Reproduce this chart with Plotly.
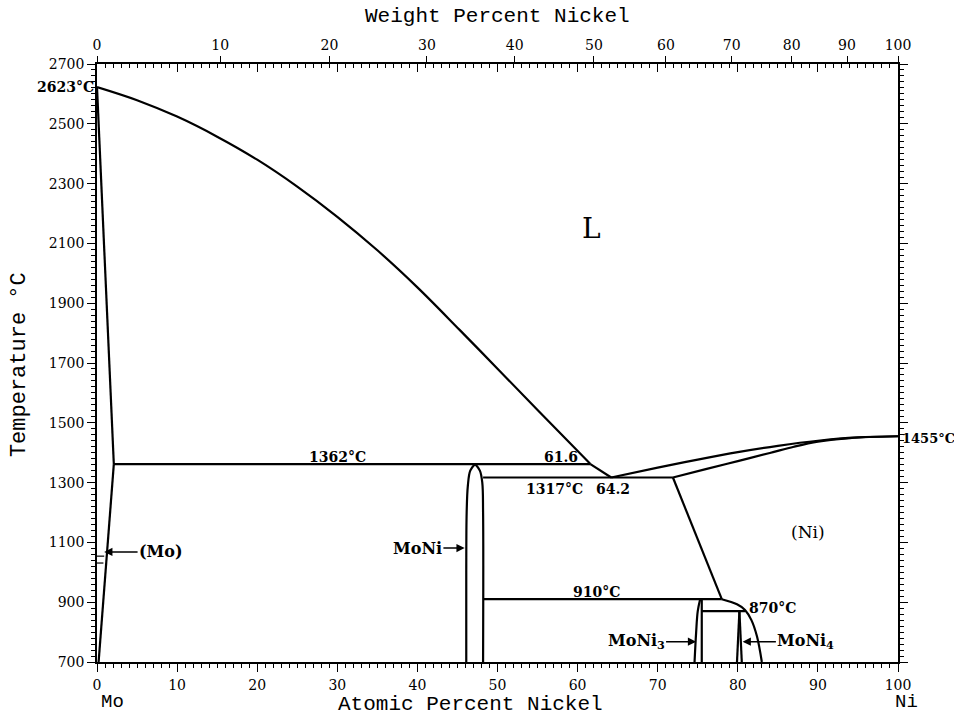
import plotly.graph_objects as go

# ---------------- data (atomic % Ni, temperature °C) ----------------
liq_mo_x = [0, 5, 10, 15, 20, 25, 30, 35, 40, 45.3, 50, 55, 61.6]
liq_mo_T = [2623, 2579, 2524, 2457, 2380, 2290, 2189, 2077, 1953, 1810, 1681, 1543, 1362]

liq_eut_x = [61.6, 64.2]
liq_eut_T = [1362, 1317]

liq_ni_x = [64.2, 70, 75, 80, 85, 90, 95, 100]
liq_ni_T = [1317, 1350, 1377, 1402, 1423, 1440, 1451, 1455]

sol_ni_x = [71.9, 76, 80, 84, 87, 90, 94, 100]
sol_ni_T = [1317, 1345, 1372, 1399, 1420, 1437, 1449, 1455]

mo_sol_x = [0, 2.1]
mo_sol_T = [2623, 1362]
mo_solv_x = [2.1, 0.2]
mo_solv_T = [1362, 700]

ni_solv_x = [71.9, 78.0]
ni_solv_T = [1317, 910]
ni_curve_x = [78.0, 79.9, 80.9, 81.7, 82.4, 83.0]
ni_curve_T = [910, 893, 874, 840, 785, 700]

moni_left_x = [47.2, 46.6, 46.3, 46.15, 46.1, 46.1]
moni_left_T = [1362, 1340, 1290, 1200, 1000, 700]
moni_right_x = [47.2, 47.8, 48.1, 48.2, 48.2]
moni_right_T = [1362, 1340, 1300, 1200, 700]

moni3_left_x = [75.3, 75.0, 74.8, 74.6]
moni3_left_T = [910, 870, 800, 700]
moni3_right_x = [75.5, 75.5]
moni3_right_T = [910, 700]

moni4_left_x = [80.2, 79.9]
moni4_left_T = [870, 700]
moni4_right_x = [80.2, 80.5]
moni4_right_T = [870, 700]

iso_1362_x = [2.1, 61.6]
iso_1362_T = [1362, 1362]
iso_1317_x = [48.2, 71.9]
iso_1317_T = [1317, 1317]
iso_910_x = [48.2, 78.0]
iso_910_T = [910, 910]
iso_870_x = [75.5, 80.9]
iso_870_T = [870, 870]

mo_mark1_x = [0, 0.9]
mo_mark1_T = [1054, 1054]
mo_mark2_x = [0, 0.8]
mo_mark2_T = [1031, 1031]

at_ticks = list(range(0, 101, 10))
wt_ticks = list(range(0, 101, 10))
T_ticks = list(range(700, 2701, 200))

M_NI, M_MO = 58.6934, 95.95


def wt_to_at(w):
    a = w / M_NI
    b = (100 - w) / M_MO
    return 100 * a / (a + b)


wt_pos = [wt_to_at(w) for w in wt_ticks]

# ---------------- figure ----------------
fig = go.Figure()

LW = 2.2


def add(xs, ys, shape="linear"):
    fig.add_trace(go.Scatter(x=xs, y=ys, mode="lines",
                             line=dict(color="black", width=LW, shape=shape),
                             hoverinfo="skip", showlegend=False))


add(liq_mo_x, liq_mo_T, "spline")
add(liq_eut_x, liq_eut_T)
add(liq_ni_x, liq_ni_T, "spline")
add(sol_ni_x, sol_ni_T, "spline")
add(mo_sol_x, mo_sol_T)
add(mo_solv_x, mo_solv_T)
add(ni_solv_x, ni_solv_T)
add(ni_curve_x, ni_curve_T, "spline")
add(moni_left_x, moni_left_T, "spline")
add(moni_right_x, moni_right_T, "spline")
add(moni3_left_x, moni3_left_T, "spline")
add(moni3_right_x, moni3_right_T)
add(moni4_left_x, moni4_left_T)
add(moni4_right_x, moni4_right_T)
add(iso_1362_x, iso_1362_T)
add(iso_1317_x, iso_1317_T)
add(iso_910_x, iso_910_T)
add(iso_870_x, iso_870_T)
fig.add_trace(go.Scatter(x=mo_mark1_x, y=mo_mark1_T, mode="lines",
                         line=dict(color="black", width=1.2), hoverinfo="skip", showlegend=False))
fig.add_trace(go.Scatter(x=mo_mark2_x, y=mo_mark2_T, mode="lines",
                         line=dict(color="black", width=1.2), hoverinfo="skip", showlegend=False))

# invisible traces to activate secondary axes
fig.add_trace(go.Scatter(x=[0], y=[700], xaxis="x2", yaxis="y", mode="markers",
                         marker=dict(opacity=0), hoverinfo="skip", showlegend=False))
fig.add_trace(go.Scatter(x=[0], y=[700], xaxis="x3", yaxis="y2", mode="markers",
                         marker=dict(opacity=0), hoverinfo="skip", showlegend=False))

TICKFONT = dict(family="DejaVu Serif", size=14, color="black")
ANN = dict(family="DejaVu Serif", size=14, color="black")
TITLE = dict(family="Liberation Mono", size=21, color="black")

fig.update_layout(
    width=954, height=716,
    margin=dict(l=97, r=56, t=64, b=54),
    paper_bgcolor="white", plot_bgcolor="white",
    xaxis=dict(range=[0, 100], tickmode="array", tickvals=at_ticks,
               ticks="outside", ticklen=8, tickwidth=1.3, tickcolor="black",
               minor=dict(dtick=1, tick0=0, ticks="outside", ticklen=4, tickwidth=1, tickcolor="black"),
               showline=True, linecolor="black", linewidth=1.5,
               showgrid=False, zeroline=False, tickfont=TICKFONT, ticklabelstandoff=1),
    xaxis2=dict(range=[0, 100], overlaying="x", side="top", anchor="y",
                tickmode="array", tickvals=wt_pos, ticktext=[str(w) for w in wt_ticks],
                ticks="outside", ticklen=7, tickwidth=1.3, tickcolor="black",
                showline=False, showgrid=False, zeroline=False, tickfont=TICKFONT),
    xaxis3=dict(range=[0, 100], overlaying="x", side="top", anchor="y2",
                tickmode="linear", tick0=0, dtick=10,
                ticks="inside", ticklen=8, tickwidth=1.3, tickcolor="black",
                minor=dict(dtick=1, tick0=0, ticks="inside", ticklen=4, tickwidth=1, tickcolor="black"),
                showticklabels=False,
                showline=True, linecolor="black", linewidth=1.5,
                showgrid=False, zeroline=False),
    yaxis=dict(range=[700, 2700], tickmode="linear", tick0=700, dtick=200,
               ticks="outside", ticklen=8, tickwidth=1.3, tickcolor="black",
               minor=dict(dtick=20, tick0=700, ticks="outside", ticklen=4, tickwidth=1, tickcolor="black"),
               showline=True, linecolor="black", linewidth=1.5,
               showgrid=False, zeroline=False, tickfont=TICKFONT),
    yaxis2=dict(range=[700, 2700], overlaying="y", side="right", anchor="x3",
                tickmode="linear", tick0=700, dtick=200,
                ticks="outside", ticklen=8, tickwidth=1.3, tickcolor="black",
                minor=dict(dtick=20, tick0=700, ticks="outside", ticklen=4, tickwidth=1, tickcolor="black"),
                showticklabels=False,
                showline=True, linecolor="black", linewidth=1.5,
                showgrid=False, zeroline=False),
)

ann = []


def txt(x, y, s, size=14, bold=True, xanchor="center", xref="x", yref="y", font=None, angle=0):
    f = dict(ANN) if font is None else dict(font)
    f["size"] = size
    ann.append(dict(x=x, y=y, xref=xref, yref=yref, text=("<b>%s</b>" % s) if bold else s,
                    showarrow=False, font=f, xanchor=xanchor, yanchor="middle", textangle=angle))


txt(-0.001, 2623, "2623°C", xref="paper", xanchor="right")
txt(30.0, 1386, "1362°C")
txt(57.9, 1384, "61.6")
txt(57.1, 1279, "1317°C")
txt(64.4, 1279, "64.2")
txt(1.003, 1449, "1455°C", size=13, xref="paper", xanchor="left")
txt(62.3, 933, "910°C")
txt(84.3, 879, "870°C")
txt(61.7, 2150, "L", size=28, bold=False)
txt(88.8, 1135, "(Ni)", size=17, bold=False)

# titles
txt(0.5, 1.079, "Weight Percent Nickel", xref="paper", yref="paper", font=TITLE, size=21, bold=False)
txt(0.466, -0.071, "Atomic Percent Nickel", xref="paper", yref="paper", font=TITLE, size=21, bold=False)
txt(-0.097, 0.497, "Temperature °C", xref="paper", yref="paper", font=TITLE, size=22, bold=False, angle=-90)
txt(0.019, -0.067, "Mo", xref="paper", yref="paper", font=TITLE, size=19, bold=False)
txt(1.011, -0.067, "Ni", xref="paper", yref="paper", font=TITLE, size=19, bold=False)


def arrow(tx, ty, x, y, s, size=16):
    ann.append(dict(x=x, y=y, ax=tx, ay=ty, xref="x", yref="y", axref="x", ayref="y",
                    text="<b>%s</b>" % s, showarrow=True, arrowhead=2, arrowsize=1.1,
                    arrowwidth=1.5, arrowcolor="black",
                    font=dict(family="DejaVu Serif", size=size, color="black")))


arrow(8.0, 1068, 0.9, 1068, "(Mo)")
arrow(40.0, 1081, 45.9, 1081, "MoNi")
arrow(67.3, 768, 74.8, 768, "MoNi<sub>3</sub>")
arrow(88.5, 768, 80.6, 768, "MoNi<sub>4</sub>")

fig.update_layout(annotations=ann)

fig.write_html("out.html")
